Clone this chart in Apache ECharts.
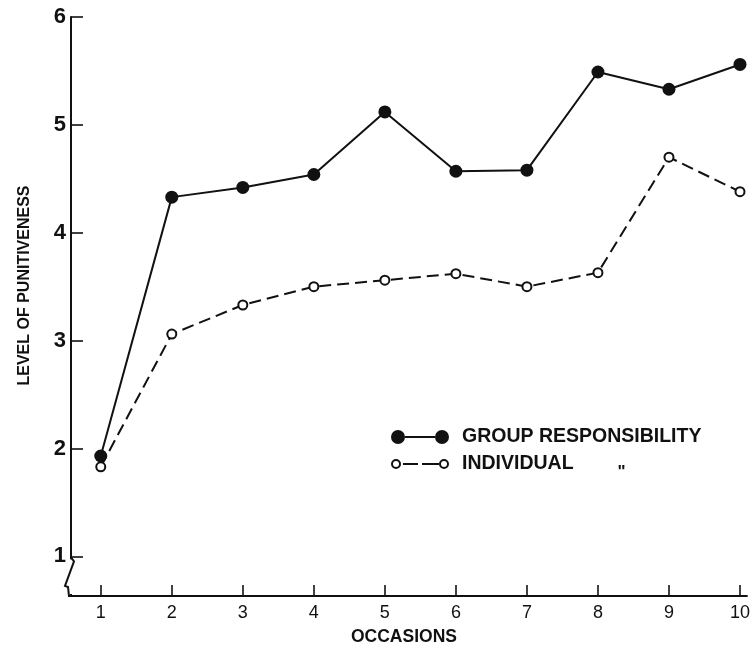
<!DOCTYPE html>
<html>
<head>
<meta charset="utf-8">
<script src="https://cdn.jsdelivr.net/npm/echarts@6/dist/echarts.min.js"></script>
<style>
html,body{margin:0;padding:0;background:#fff;}
#chart{width:753px;height:651px;}
</style>
</head>
<body>
<div id="chart"></div>
<script>
const occasions = [1, 2, 3, 4, 5, 6, 7, 8, 9, 10];
const groupResponsibility = [1.93, 4.33, 4.42, 4.54, 5.12, 4.57, 4.58, 5.49, 5.33, 5.56];
const individualResponsibility = [1.83, 3.06, 3.33, 3.50, 3.56, 3.62, 3.50, 3.63, 4.70, 4.38];
const yTickValues = [1, 2, 3, 4, 5, 6];
const xTickValues = [1, 2, 3, 4, 5, 6, 7, 8, 9, 10];
const seriesNames = ['GROUP RESPONSIBILITY', 'INDIVIDUAL'];

const FONT = "'Liberation Sans', Arial, sans-serif";
const INK = '#111';
const X_MIN = 0.581, X_MAX = 10.098, Y_MIN = 0.632, Y_MAX = 6;

const chart = echarts.init(document.getElementById('chart'), null, {renderer: 'canvas'});

const groupIcon = 'path://M0,7a7,7 0 1,0 14,0a7,7 0 1,0 -14,0Z M14,6h30v2h-30Z M44,7a7,7 0 1,0 14,0a7,7 0 1,0 -14,0Z';
const indivIcon = 'path://M0,5a5,5 0 1,0 10,0a5,5 0 1,0 -10,0Z M2,5a3,3 0 1,1 6,0a3,3 0 1,1 -6,0Z M12,4h15v2h-15Z M31,4h17v2h-17Z M48,5a5,5 0 1,0 10,0a5,5 0 1,0 -10,0Z M50,5a3,3 0 1,1 6,0a3,3 0 1,1 -6,0Z';

chart.setOption({
  animation: false,
  backgroundColor: '#fff',
  grid: {left: 71, top: 17, width: 682, height: 584, containLabel: false},
  xAxis: {
    type: 'value',
    min: X_MIN, max: X_MAX,
    name: 'OCCASIONS',
    nameLocation: 'middle',
    nameGap: 32,
    nameTextStyle: {fontFamily: FONT, fontSize: 17.5, fontWeight: 'bold', color: INK, padding: [0, 10, 0, 0]},
    axisLine: {show: true, lineStyle: {color: INK, width: 2}},
    axisTick: {show: true, inside: true, length: 11, customValues: xTickValues, lineStyle: {color: INK, width: 1.6}},
    axisLabel: {show: true, customValues: xTickValues, margin: 8, fontFamily: FONT, fontSize: 18, color: INK},
    splitLine: {show: false}
  },
  yAxis: {
    type: 'value',
    min: Y_MIN, max: Y_MAX,
    name: 'LEVEL OF PUNITIVENESS',
    nameLocation: 'middle',
    nameGap: 38,
    nameTextStyle: {fontFamily: FONT, fontSize: 16, fontWeight: 'bold', color: INK, padding: [0, 0, 0, 42]},
    axisLine: {show: true, lineStyle: {color: INK, width: 2}},
    axisTick: {show: true, inside: true, length: 12, customValues: yTickValues, lineStyle: {color: INK, width: 1.6}},
    axisLabel: {show: true, customValues: yTickValues, margin: 5, fontFamily: FONT, fontSize: 22, fontWeight: 'bold', color: INK},
    splitLine: {show: false}
  },
  legend: {
    orient: 'vertical',
    left: 391,
    top: 427,
    padding: 0,
    itemWidth: 58,
    itemHeight: 14,
    itemGap: 7,
    selectedMode: false,
    symbolKeepAspect: true,
    textStyle: {fontFamily: FONT, fontSize: 19.5, fontWeight: 'bold', color: INK, lineHeight: 20, padding: [0, 0, 0, 8],
      rich: {d: {fontFamily: FONT, fontSize: 17, fontWeight: 'bold', color: INK, padding: [16, 0, 0, 44]}}},
    formatter: function (name) { return name === 'INDIVIDUAL' ? name + '{d|"}' : name; },
    data: [
      {name: seriesNames[0], icon: groupIcon, itemStyle: {color: INK, borderWidth: 0}},
      {name: seriesNames[1], icon: indivIcon, itemStyle: {color: INK, borderWidth: 0}}
    ]
  },
  series: [
    {
      name: seriesNames[0],
      type: 'line',
      z: 3,
      clip: false,
      data: occasions.map((o, i) => [o, groupResponsibility[i]]),
      symbol: 'circle',
      symbolSize: 13,
      itemStyle: {color: INK},
      lineStyle: {color: INK, width: 2}
    },
    {
      name: seriesNames[1],
      type: 'line',
      z: 2,
      clip: false,
      data: occasions.map((o, i) => [o, individualResponsibility[i]]),
      symbol: 'emptyCircle',
      symbolSize: 9,
      itemStyle: {color: INK, borderWidth: 2, borderColor: INK},
      lineStyle: {color: INK, width: 2, type: [12, 6]}
    }
  ]
});

// axis break mark on the y axis below 1
const p1 = chart.convertToPixel({gridIndex: 0}, [X_MIN, 1]);
const pb = chart.convertToPixel({gridIndex: 0}, [X_MIN, Y_MIN]);
const ax = p1[0], y1 = p1[1], yb = pb[1];
chart.setOption({
  graphic: [
    {type: 'rect', z: 100, shape: {x: ax - 5, y: y1 + 3, width: 10, height: yb - y1 - 5}, style: {fill: '#fff'}},
    {type: 'polyline', z: 101, shape: {points: [[ax, y1 + 1], [ax + 3, y1 + 5], [ax - 6, yb - 10], [ax - 3, yb - 9], [ax - 2, yb], [ax + 1, yb]]},
      style: {stroke: INK, lineWidth: 2, fill: null}}
  ]
});
</script>
</body>
</html>
